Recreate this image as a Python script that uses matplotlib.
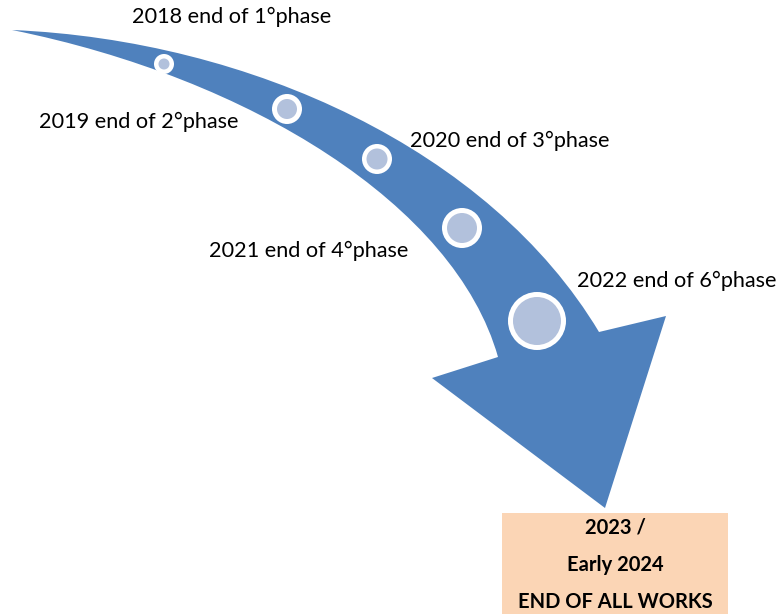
import matplotlib
matplotlib.use("Agg")
import matplotlib.pyplot as plt
from matplotlib.path import Path
from matplotlib.patches import PathPatch, Circle, Rectangle

# ---- content ----
phase_labels = ["2018 end of 1°phase", "2019 end of 2°phase", "2020 end of 3°phase",
                "2021 end of 4°phase", "2022 end of 6°phase"]
label_x = [132, 39, 410, 209, 577]
label_y = [17, 122, 141, 251, 281]

circle_x = [164, 287, 377, 462, 537]
circle_y = [64, 109, 159, 228, 321]
circle_outer = [10, 15, 15, 20, 29]
circle_inner = [5.5, 10, 10.5, 15, 24]

final_lines = ["2023 /", "Early 2024", "END OF ALL WORKS"]
final_line_y = [528, 565, 602]

# ---- style ----
BLUE = "#4F81BD"
LIGHT = "#B2C1DC"
PEACH = "#FBD5B5"
FONT = ["Lato", "DejaVu Sans"]

fig = plt.figure(figsize=(7.78, 6.14), dpi=100)
ax = fig.add_axes([0, 0, 1, 1])
ax.set_xlim(0, 778)
ax.set_ylim(614, 0)
ax.axis("off")

# curved arrow: upper edge (bezier), head, lower edge (bezier) back to tail
verts = [
    (12, 30),
    (250, 40), (490, 150), (599, 332),   # upper edge
    (666, 316),                          # right barb
    (605, 508),                          # tip
    (432, 378),                          # left barb
    (498, 357),                          # inner notch
    (455, 205), (250, 78), (12, 30),     # lower edge back to tail
    (12, 30),
]
codes = [Path.MOVETO,
         Path.CURVE4, Path.CURVE4, Path.CURVE4,
         Path.LINETO, Path.LINETO, Path.LINETO, Path.LINETO,
         Path.CURVE4, Path.CURVE4, Path.CURVE4,
         Path.CLOSEPOLY]
ax.add_patch(PathPatch(Path(verts, codes), facecolor=BLUE, edgecolor="none", zorder=1))

for x, y, ro, ri in zip(circle_x, circle_y, circle_outer, circle_inner):
    ax.add_patch(Circle((x, y), ro, facecolor="white", edgecolor="none", zorder=2))
    ax.add_patch(Circle((x, y), ri, facecolor=LIGHT, edgecolor="none", zorder=3))

for t, x, y in zip(phase_labels, label_x, label_y):
    ax.text(x, y, t, ha="left", va="center", fontsize=15.6, family=FONT, color="black", zorder=4)

ax.add_patch(Rectangle((502, 513), 226, 110, facecolor=PEACH, edgecolor="none", zorder=1))
for t, y in zip(final_lines, final_line_y):
    ax.text(615, y, t, ha="center", va="center", fontsize=14.5, fontweight="bold",
            family=FONT, color="black", zorder=4)

fig.savefig("out.png", dpi=100)
